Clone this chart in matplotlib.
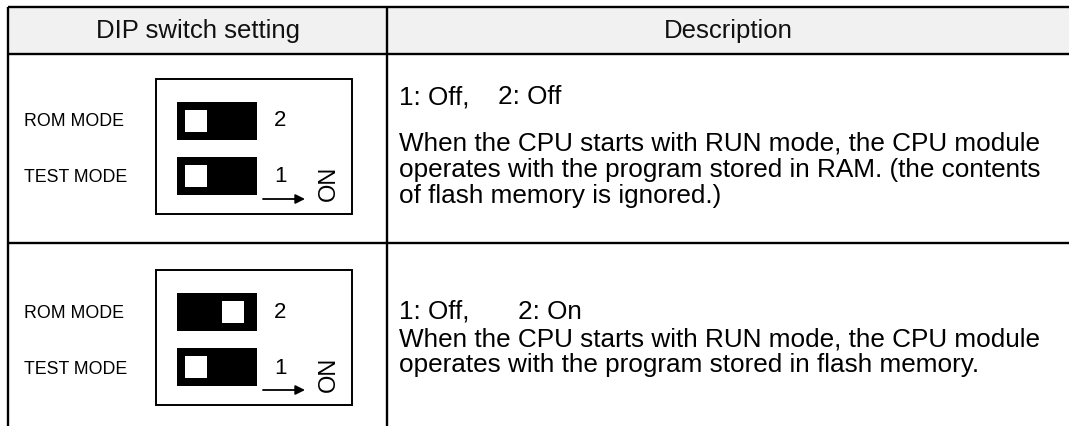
import matplotlib
matplotlib.use("Agg")
import matplotlib.pyplot as plt
from matplotlib.patches import Rectangle

plt.rcParams['font.family'] = ['Liberation Sans', 'DejaVu Sans']

# ---- content ----
header_titles = ["DIP switch setting", "Description"]
setting_labels = ["ROM MODE", "TEST MODE"]
switch_numbers = ["2", "1"]
# switch state per table row: [ROM MODE (switch 2), TEST MODE (switch 1)]
switch_on = [[False, False], [True, False]]
status_first = ["1: Off,", "1: Off,"]
status_second = ["2: Off", "2: On"]
descriptions = [
    ["When the CPU starts with RUN mode, the CPU module",
     "operates with the program stored in RAM. (the contents",
     "of flash memory is ignored.)"],
    ["When the CPU starts with RUN mode, the CPU module",
     "operates with the program stored in flash memory."],
]

# ---- layout (pixel coordinates) ----
W, H = 1069, 426
fig = plt.figure(figsize=(W / 100, H / 100), dpi=100)
ax = fig.add_axes([0, 0, 1, 1])
ax.set_xlim(0, W)
ax.set_ylim(H, 0)
ax.axis("off")

lw = 1.7
left_x, col_x = 8, 387
top_y, head_y, row_div = 7, 54, 243

# header background
ax.add_patch(Rectangle((left_x, top_y), W - left_x + 5, head_y - top_y,
                       facecolor="#f1f1f1", edgecolor="none", zorder=0))
# grid lines
for yy in (top_y, head_y, row_div):
    ax.plot([left_x, W + 5], [yy, yy], color="black", lw=lw, solid_capstyle="butt")
for xx in (left_x, col_x):
    ax.plot([xx, xx], [top_y, H + 5], color="black", lw=lw, solid_capstyle="butt")

ax.text((left_x + col_x) / 2 + 1, 31, header_titles[0], fontsize=18.5,
        ha="center", va="center", color="#111111")
ax.text((col_x + W) / 2, 31, header_titles[1], fontsize=18.5,
        ha="center", va="center", color="#111111")

# DIP switch diagrams
box_tops = [79, 270]
for r, btop in enumerate(box_tops):
    ax.add_patch(Rectangle((156, btop), 196, 135, facecolor="white",
                           edgecolor="black", lw=1.4, zorder=1))
    sw_offsets = [23, 78]
    label_offsets = [43, 99]
    for i, name in enumerate(setting_labels):
        y0 = btop + sw_offsets[i]
        ax.add_patch(Rectangle((177, y0), 80, 38, facecolor="black",
                               edgecolor="none", zorder=2))
        wx = 222 if switch_on[r][i] else 185
        ax.add_patch(Rectangle((wx, y0 + 8), 22, 22, facecolor="white",
                               edgecolor="none", zorder=3))
        ax.text(24, btop + label_offsets[i], name, fontsize=12.8,
                ha="left", va="center", color="black")
        ax.text(280, btop + label_offsets[i] - 1, switch_numbers[i], fontsize=16,
                ha="center", va="center", color="black")
    ax.annotate("", xy=(305, btop + 120), xytext=(263, btop + 120),
                arrowprops=dict(arrowstyle="-|>", color="black", lw=1.3,
                                mutation_scale=14, shrinkA=0, shrinkB=0))
    ax.text(329, btop + 104, "ON", fontsize=17, rotation=90,
            ha="center", va="center", color="black")

# description column
status_y = [97, 312]
second_x = [498, 518]
desc_y0 = [144, 339]
line_step = 26
for r in range(2):
    ax.text(399, status_y[r], status_first[r], fontsize=18.8,
            ha="left", va="center", color="black")
    ax.text(second_x[r], status_y[r], status_second[r], fontsize=18.8,
            ha="left", va="center", color="black")
    for k, line in enumerate(descriptions[r]):
        ax.text(399, desc_y0[r] + k * line_step, line, fontsize=18.8,
                ha="left", va="center", color="black")

fig.savefig("out.png", dpi=100)
